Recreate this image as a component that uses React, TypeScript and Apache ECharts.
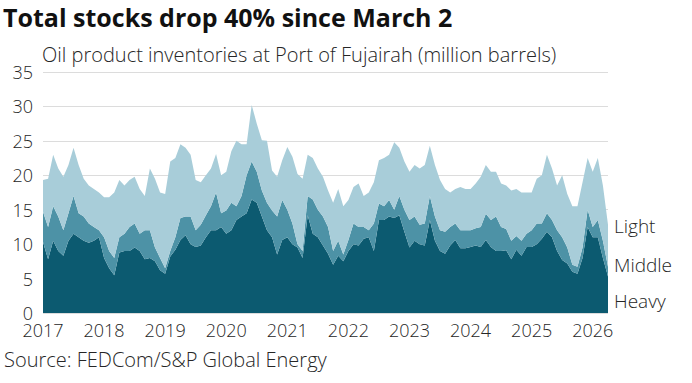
import React, { useEffect, useRef } from "react";
import * as echarts from "echarts";

// Monthly readings, Jan 2017 .. Mar 2026 (million barrels)
const heavy = [
  10.3, 7.8, 10.5, 9.0, 8.3, 10.5, 11.5, 11.0, 10.5, 10.2, 10.5, 11.0,
  8.0, 6.5, 5.5, 8.8, 9.0, 9.0, 9.5, 9.0, 7.8, 8.0, 7.5, 6.2,
  5.7, 8.2, 9.2, 10.6, 11.3, 10.0, 9.6, 9.8, 11.0, 12.0, 12.0, 12.5,
  11.5, 12.0, 13.5, 14.0, 14.5, 16.5, 16.0, 14.0, 12.0, 11.0, 8.5, 10.6,
  11.0, 10.0, 9.5, 8.0, 14.2, 11.5, 11.0, 9.8, 8.6, 7.0, 8.3, 7.5,
  9.0, 10.0, 9.8, 10.8, 11.0, 9.0, 13.5, 13.5, 14.0, 13.8, 14.2, 11.8,
  9.5, 10.5, 10.0, 9.8, 13.5, 10.5, 9.0, 8.6, 9.8, 10.6, 9.4, 9.4,
  9.6, 9.8, 9.6, 10.6, 9.6, 9.0, 9.0, 9.1, 7.8, 9.2, 8.3, 9.6,
  9.6, 10.0, 10.8, 11.8, 11.0, 9.0, 7.7, 7.2, 6.0, 5.7, 8.0, 12.5,
  11.0, 11.0, 8.0, 5.3,
];
const middle = [
  4.4, 4.7, 5.0, 5.0, 3.7, 4.0, 5.5, 3.5, 3.5, 2.8, 2.0, 1.0,
  3.0, 2.5, 2.5, 2.2, 2.5, 3.5, 3.5, 2.5, 4.2, 4.0, 2.0, 1.8,
  0.8, 0.8, 1.8, 3.2, 2.7, 4.0, 2.4, 3.0, 3.2, 3.5, 5.5, 2.0,
  3.4, 4.0, 2.0, 3.0, 5.5, 5.5, 4.5, 3.8, 4.0, 3.9, 5.5, 5.8,
  4.0, 3.0, 0.5, 1.0, 2.8, 5.0, 4.0, 4.2, 3.9, 2.0, 2.2, 1.0,
  1.6, 3.0, 2.7, 1.7, 1.0, 4.0, 2.4, 2.0, 2.4, 1.2, 2.8, 3.2,
  4.0, 3.5, 2.8, 3.2, 3.5, 3.5, 3.0, 3.2, 2.7, 2.4, 2.6, 2.6,
  2.4, 2.5, 2.9, 3.8, 3.9, 5.0, 3.5, 3.1, 2.7, 2.0, 2.2, 1.9,
  2.4, 3.0, 2.2, 2.7, 2.5, 3.0, 3.3, 2.3, 1.0, 1.0, 1.5, 2.5,
  1.5, 2.5, 2.5, 1.4,
];
const light = [
  4.6, 7.0, 7.5, 7.0, 7.8, 7.0, 7.0, 7.0, 5.5, 5.5, 5.5, 5.5,
  5.8, 7.8, 9.5, 8.3, 7.0, 6.8, 6.8, 6.5, 5.0, 9.0, 10.0, 9.5,
  10.8, 13.0, 11.5, 10.7, 10.0, 9.0, 7.3, 6.2, 5.8, 5.5, 5.6, 5.5,
  5.6, 7.5, 9.5, 7.5, 4.5, 8.2, 7.0, 7.3, 9.0, 5.8, 5.8, 5.8,
  9.1, 9.7, 10.2, 10.5, 6.0, 6.0, 6.0, 5.8, 5.3, 7.0, 7.5, 7.0,
  5.8, 5.3, 6.3, 4.5, 5.5, 6.0, 6.3, 7.0, 6.6, 9.8, 7.0, 7.0,
  7.0, 7.5, 8.2, 8.5, 7.3, 7.5, 7.3, 6.2, 5.0, 5.0, 6.3, 6.0,
  6.0, 6.5, 7.3, 7.1, 7.0, 6.5, 6.3, 6.3, 7.3, 6.8, 7.0, 6.0,
  5.5, 6.5, 7.0, 8.5, 7.5, 6.5, 9.0, 7.8, 8.5, 8.8, 9.5, 7.5,
  8.0, 9.0, 8.0, 6.1,
];

const months: string[] = [];
for (let i = 0; i < heavy.length; i++) {
  const y = 2017 + Math.floor(i / 12);
  const m = (i % 12) + 1;
  months.push(`${y}-${m < 10 ? "0" + m : m}`);
}

const seriesNames = ["Heavy", "Middle", "Light"];
const colors = ["#0c5a70", "#4d92a6", "#a8cdd9"];
const FONT = "'Open Sans', Roboto, sans-serif";

export default function App() {
  const ref = useRef<HTMLDivElement>(null);
  useEffect(() => {
    if (!ref.current) return;
    const chart = echarts.init(ref.current, undefined, { renderer: "svg" });
    const values = [heavy, middle, light];
    const label = (text: string, x: number, y: number, size = 19) => ({
      type: "text",
      left: x,
      top: y,
      style: { text, font: `300 ${size}px ${FONT}`, fill: "#262626" },
    });
    chart.setOption({
      animation: false,
      backgroundColor: "#ffffff",
      grid: { left: 43, right: 84, top: 72, bottom: 70 },
      xAxis: {
        type: "category",
        data: months,
        boundaryGap: false,
        axisLine: { show: false },
        axisTick: { show: false },
        splitLine: { show: false },
        axisLabel: {
          interval: (idx: number) => idx % 12 === 0,
          formatter: (v: string) => v.slice(0, 4),
          color: "#262626",
          fontSize: 18,
          fontWeight: 300,
          fontFamily: FONT,
          margin: 8,
        },
      },
      yAxis: {
        type: "value",
        min: 0,
        max: 35,
        interval: 5,
        axisLine: { show: false },
        axisTick: { show: false },
        splitLine: { lineStyle: { color: "#dcdcdc", width: 1 } },
        axisLabel: {
          color: "#262626",
          fontSize: 18,
          fontWeight: 300,
          fontFamily: FONT,
          margin: 10,
        },
      },
      series: values.map((d, i) => ({
        name: seriesNames[i],
        type: "line",
        stack: "total",
        data: d,
        showSymbol: false,
        symbol: "none",
        lineStyle: { width: 0 },
        areaStyle: { color: colors[i], opacity: 1 },
        itemStyle: { color: colors[i] },
      })),
      graphic: [
        {
          type: "text",
          left: 3,
          top: 4,
          style: {
            text: "Total stocks drop 40% since March 2",
            font: `700 25px ${FONT}`,
            fill: "#111",
          },
        },
        label("Oil product inventories at Port of Fujairah (million barrels)", 42, 44, 20),
        label("Light", 614, 216),
        label("Middle", 614, 255),
        label("Heavy", 614, 291),
        label("Source: FEDCom/S&P Global Energy", 4, 349, 20),
      ],
    });
    return () => chart.dispose();
  }, []);
  return (
    <div
      ref={ref}
      style={{ position: "fixed", left: 0, top: 0, width: 692, height: 383 }}
    />
  );
}
